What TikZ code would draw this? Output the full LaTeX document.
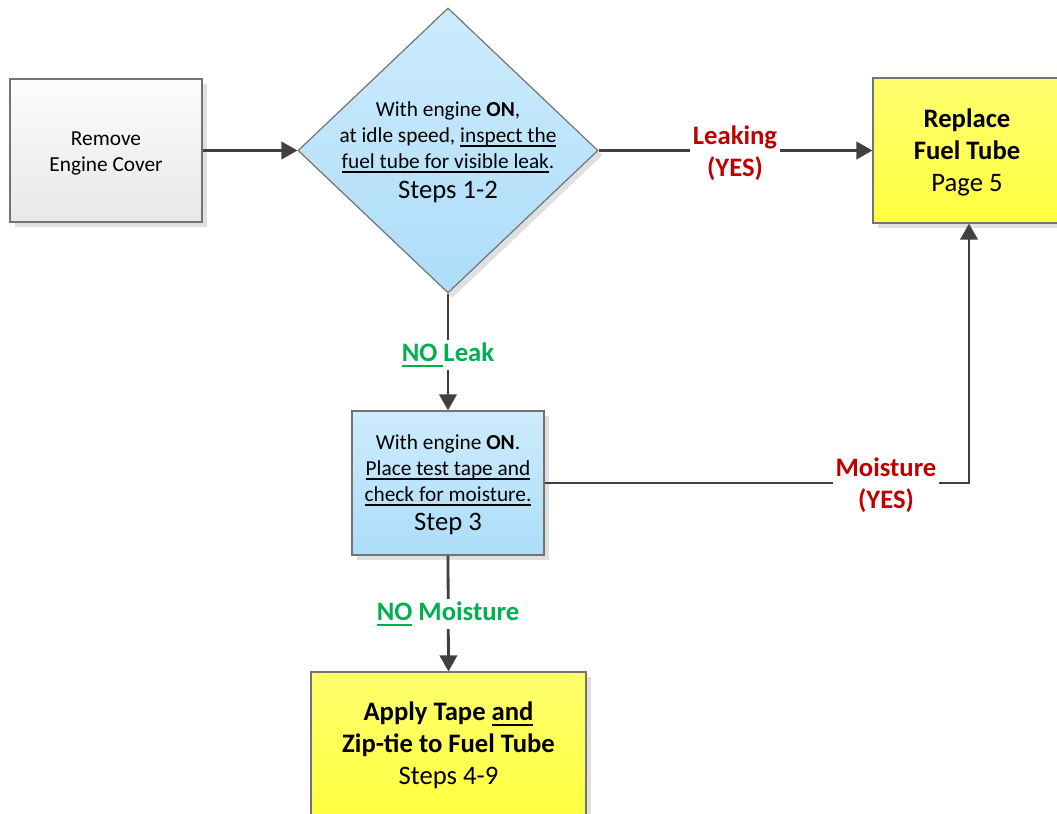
\documentclass[tikz,border=0pt]{standalone}
\usepackage{fontspec}
\setmainfont{Carlito}
\newcommand\uln[1]{\setbox0=\hbox{#1}\rlap{\vrule width\wd0 height-0.15em depth 0.22em}\box0\relax}
\usetikzlibrary{shapes.geometric,arrows.meta,shadows}
\definecolor{arrowgray}{HTML}{404040}
\definecolor{yesred}{HTML}{C00000}
\definecolor{nogreen}{HTML}{00B050}
\definecolor{blueT}{HTML}{CDEBFC}
\definecolor{blueB}{HTML}{ADDDF9}
\definecolor{yellowT}{HTML}{FFFF6E}
\definecolor{yellowB}{HTML}{FFFF40}
\definecolor{grayT}{HTML}{FCFCFC}
\definecolor{grayB}{HTML}{E8E8E8}
\newcommand\smallfs{\fontsize{16}{19.5}\selectfont}
\newcommand\bigfs{\fontsize{20}{24}\selectfont}
\begin{document}
\begin{tikzpicture}[x=0.75pt,y=-0.75pt,
  boxshadow/.style={drop shadow={shadow xshift=3.5pt,shadow yshift=-3.5pt,fill=black!12,opacity=1}},
  procbox/.style={rectangle, draw=black!55, line width=0.9pt, inner sep=0pt, boxshadow},
  graybox/.style={procbox, top color=grayT, bottom color=grayB},
  bluebox/.style={procbox, top color=blueT, bottom color=blueB},
  yellowbox/.style={procbox, top color=yellowT, bottom color=yellowB},
  conn/.style={draw=arrowgray, line width=2.1pt, -{Triangle[length=12pt,width=13pt]}},
  yeslbl/.style={fill=white, text=yesred, font=\bigfs\bfseries, align=center, inner sep=2pt},
  nolbl/.style={fill=white, text=nogreen, font=\bigfs\bfseries, inner sep=2pt},
  txt/.style={align=center, inner sep=0pt}
]
\useasboundingbox (0,0) rectangle (1057,814);
\clip (0,0) rectangle (1057,814);

\node[graybox, minimum width=144pt, minimum height=107.25pt] (remove) at (106,150.5) {};
\node[txt, font=\smallfs] (removetxt) at (106,153) {Remove\\Engine Cover};

\node[diamond, draw=black!55, line width=0.9pt, top color=blueT, bottom color=blueB, minimum width=225pt, minimum height=213.75pt, inner sep=0pt, boxshadow] (inspect) at (448,150.5) {};
\node[txt, font=\smallfs] (inspecttxt) at (448,137) {With engine \textbf{ON},\\ at idle speed, \uln{inspect the}\\ \uln{fuel tube for visible leak}.};
\node[txt, font=\bigfs] (inspectnum) at (448,192) {Steps 1-2};

\node[bluebox, minimum width=144pt, minimum height=108pt] (step3) at (448,483) {};
\node[txt, font=\smallfs] (step3txt) at (448,470) {With engine \textbf{ON}.\\ \uln{Place test tape and}\\ \uln{check for moisture.}};
\node[txt, font=\bigfs] (step3num) at (448,524) {Step 3};

\node[yellowbox, minimum width=144pt, minimum height=108.75pt] (replace) at (969,150.5) {};
\node[txt, font=\bigfs] (replacetxt) at (967,152.5) {\textbf{Replace}\\ \textbf{Fuel Tube}\\ Page 5};

\node[yellowbox, minimum width=206.25pt, minimum height=108pt] (apply) at (448.5,744) {};
\node[txt, font=\bigfs] (applytxt) at (448.5,745) {\textbf{Apply Tape \uln{and}}\\ \textbf{Zip-tie to Fuel Tube}\\ Steps 4-9};

\draw[conn] (remove.east) -- (inspect.west);
\draw[conn] (inspect.east) -- (replace.west);
\node[yeslbl] (leaklbl) at (735,153) {Leaking\\(YES)};
\draw[conn] (inspect.south) -- (step3.north);
\node[nolbl] (noleak) at (448,355) {\uln{NO\ }Leak};
\draw[conn] (step3.east) -| (replace.south);
\node[yeslbl] (moistlbl) at (886,485) {Moisture\\(YES)};
\draw[conn] (step3.south) -- (apply.north);
\node[nolbl] (nomoist) at (448,614) {\uln{NO} Moisture};
\end{tikzpicture}
\end{document}
